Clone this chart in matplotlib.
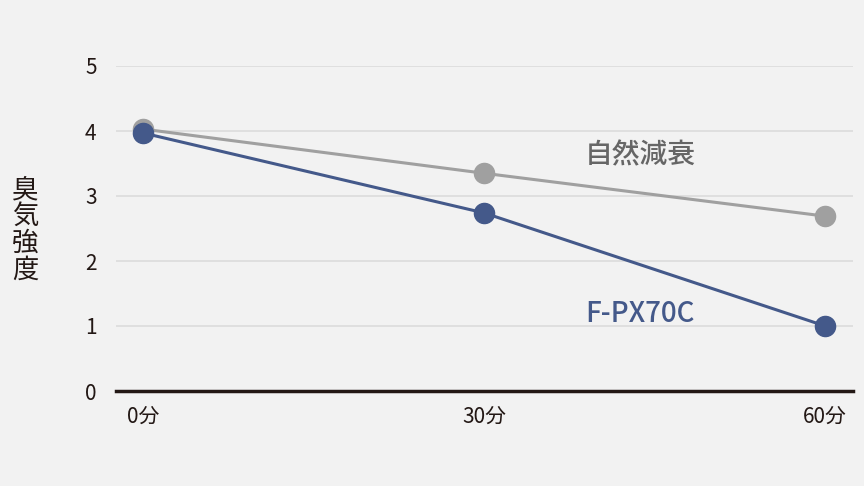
import matplotlib
matplotlib.use("Agg")
import matplotlib.pyplot as plt

plt.rcParams['font.family'] = ['Noto Sans CJK JP', 'DejaVu Sans']

minutes = [0, 30, 60]
tick_labels = ['0分', '30分', '60分']
natural = [4.03, 3.35, 2.69]
fpx70c = [3.97, 2.74, 1.0]
natural_label = '自然減衰'
fpx_label = 'F-PX70C'

bg = '#f2f2f2'
gray = '#a0a0a0'
blue = '#44598a'
dark = '#231815'

fig = plt.figure(figsize=(8.64, 4.86), dpi=100, facecolor=bg)
ax = fig.add_axes([116/864, 1-391/486, (853-116)/864, (391-66)/486])
ax.set_facecolor(bg)

ax.set_xlim(-2.36, 62.45)
ax.set_ylim(0, 5)
ax.set_yticks(range(6))
ax.grid(axis='y', color='#dcdcdc', linewidth=1.2)
ax.set_axisbelow(True)
for s in ['top', 'right', 'left']:
    ax.spines[s].set_visible(False)
ax.spines['bottom'].set_color(dark)
ax.spines['bottom'].set_linewidth(2.5)

ax.plot(minutes, natural, color=gray, linewidth=2.2, marker='o', markersize=14.5,
        clip_on=False, zorder=3)
ax.plot(minutes, fpx70c, color=blue, linewidth=2.2, marker='o', markersize=14.5,
        clip_on=False, zorder=4)

ax.set_xticks(minutes)
ax.set_xticklabels(tick_labels)
ax.tick_params(axis='both', length=0, labelsize=15, labelcolor=dark)
ax.tick_params(axis='x', pad=11)
ax.tick_params(axis='y', pad=14)

ax.text(38.9, 3.63, natural_label, color='#666666', fontsize=20, fontweight='medium',
        va='center', ha='left')
ax.text(38.9, 1.2, fpx_label, color=blue, fontsize=20, fontweight='medium',
        va='center', ha='left')

fig.text(25/864, 1-230/486, '臭\n気\n強\n度', fontsize=19, color=dark,
         ha='center', va='center', linespacing=1.0)

fig.savefig('out.png', dpi=100, facecolor=bg)
